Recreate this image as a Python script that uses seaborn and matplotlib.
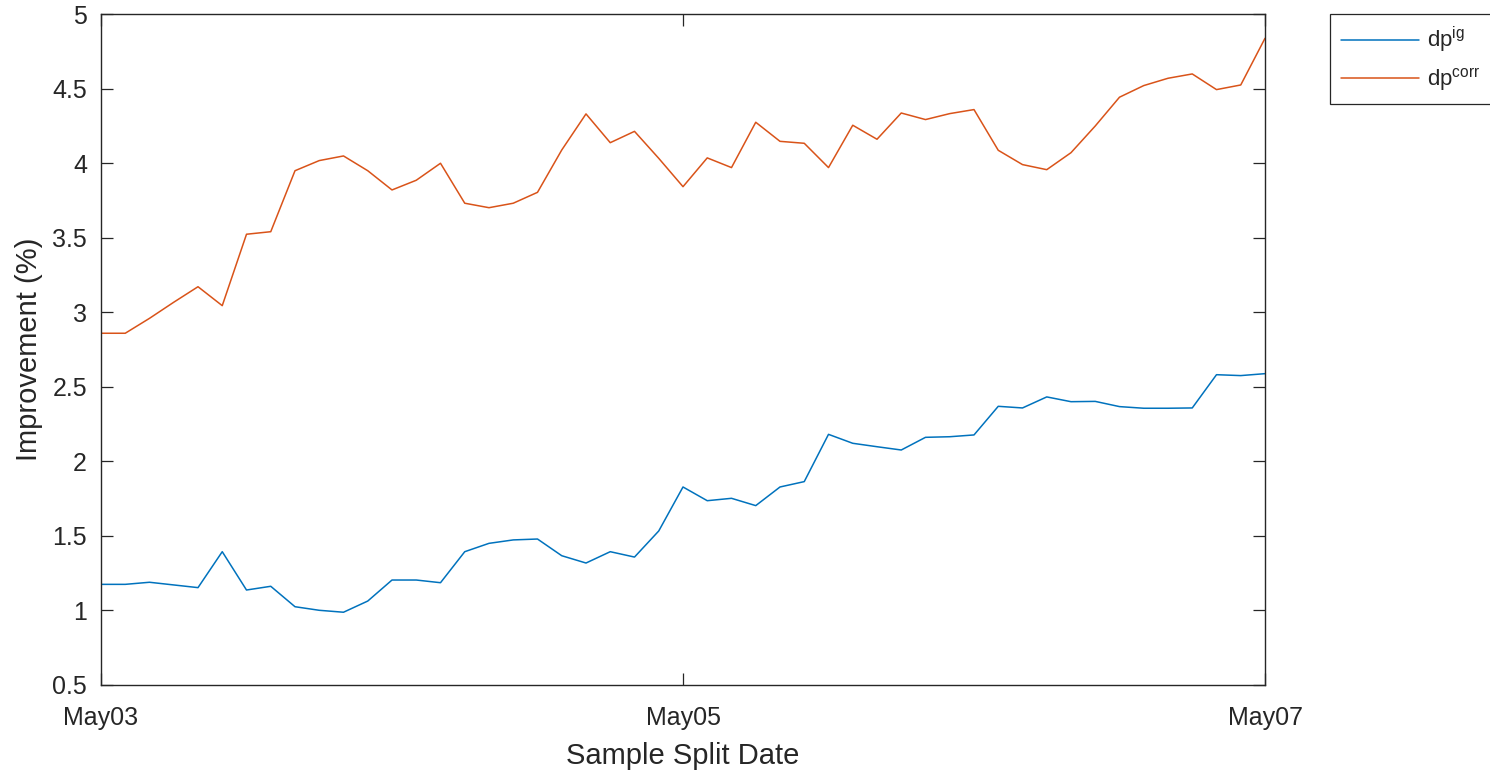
import numpy as np
import pandas as pd
import matplotlib
matplotlib.use("Agg")
import matplotlib.pyplot as plt
import matplotlib.dates as mdates
import seaborn as sns

# Improvement (%) at each sample split time, every 2 hours from May 03 to May 07
split_times = pd.date_range("2020-05-03", "2020-05-07", freq="2h")

dp_ig = [
    1.175, 1.175, 1.189, 1.171, 1.153, 1.394, 1.137, 1.162, 1.025, 1.001,
    0.988, 1.063, 1.204, 1.204, 1.186, 1.394, 1.450, 1.473, 1.479, 1.367,
    1.318, 1.394, 1.358, 1.533, 1.828, 1.736, 1.752, 1.703, 1.828, 1.864,
    2.181, 2.121, 2.098, 2.076, 2.161, 2.165, 2.177, 2.369, 2.358, 2.432,
    2.400, 2.402, 2.367, 2.356, 2.356, 2.358, 2.581, 2.575, 2.588,
]

dp_corr = [
    2.859, 2.859, 2.959, 3.067, 3.171, 3.044, 3.523, 3.540, 3.949, 4.017,
    4.048, 3.949, 3.820, 3.885, 3.999, 3.731, 3.701, 3.731, 3.804, 4.088,
    4.330, 4.137, 4.213, 4.032, 3.842, 4.035, 3.970, 4.274, 4.146, 4.133,
    3.970, 4.254, 4.160, 4.336, 4.292, 4.332, 4.359, 4.086, 3.990, 3.956,
    4.070, 4.249, 4.442, 4.520, 4.569, 4.598, 4.493, 4.524, 4.837,
]

series_names = [r"dp$^{\mathrm{ig}}$", r"dp$^{\mathrm{corr}}$"]
series_colors = ["#0072BD", "#D95319"]
y_ticks = [0.5, 1, 1.5, 2, 2.5, 3, 3.5, 4, 4.5, 5]
x_tick_dates = pd.to_datetime(["2020-05-03", "2020-05-05", "2020-05-07"])

df = pd.concat([
    pd.DataFrame({"time": split_times, "value": dp_ig, "series": series_names[0]}),
    pd.DataFrame({"time": split_times, "value": dp_corr, "series": series_names[1]}),
], ignore_index=True)

sns.set_theme(style="white")
ink = "#262626"
plt.rcParams.update({
    "font.family": ["Liberation Sans", "DejaVu Sans"],
    "mathtext.fontset": "custom",
    "mathtext.rm": "Liberation Sans",
    "mathtext.it": "Liberation Sans:italic",
    "axes.edgecolor": ink,
    "axes.labelcolor": ink,
    "xtick.color": ink,
    "ytick.color": ink,
    "text.color": ink,
})

fig = plt.figure(figsize=(14.9, 7.71), dpi=100)
ax = fig.add_axes([101 / 1490, 1 - 685 / 771, (1265 - 101) / 1490, (685 - 14) / 771])

sns.lineplot(data=df, x="time", y="value", hue="series",
             palette=dict(zip(series_names, series_colors)),
             linewidth=1.1, ax=ax, legend=False)

ax.set_xlim(split_times[0], split_times[-1])
ax.set_ylim(0.5, 5)
ax.set_yticks(y_ticks)
ax.set_yticklabels([f"{t:g}" for t in y_ticks])
ax.set_xticks(x_tick_dates)
ax.xaxis.set_major_formatter(mdates.DateFormatter("%b%d"))

for side in ax.spines.values():
    side.set_linewidth(1.0)
    side.set_color(ink)

ax.tick_params(axis="both", which="major", direction="in", length=8.5, width=0.9,
               bottom=True, left=True, top=True, right=True, labelsize=18)
ax.tick_params(axis="y", pad=10)
ax.tick_params(axis="x", pad=15)

ax.set_xlabel("Sample Split Date", fontsize=21, labelpad=9)
ax.set_ylabel("Improvement (%)", fontsize=21, labelpad=7)

handles = [plt.Line2D([], [], color=c, linewidth=1.1) for c in series_colors]
leg = fig.legend(handles, series_names, loc="upper left",
                 bbox_to_anchor=(1330 / 1490, 1 - 14 / 771), borderaxespad=0,
                 frameon=True, fancybox=False, framealpha=1, edgecolor=ink,
                 fontsize=16, handlelength=3.5, handletextpad=0.35,
                 labelspacing=0.5, borderpad=0.5)
leg.get_frame().set_linewidth(0.9)

fig.savefig("out.png", dpi=100)
